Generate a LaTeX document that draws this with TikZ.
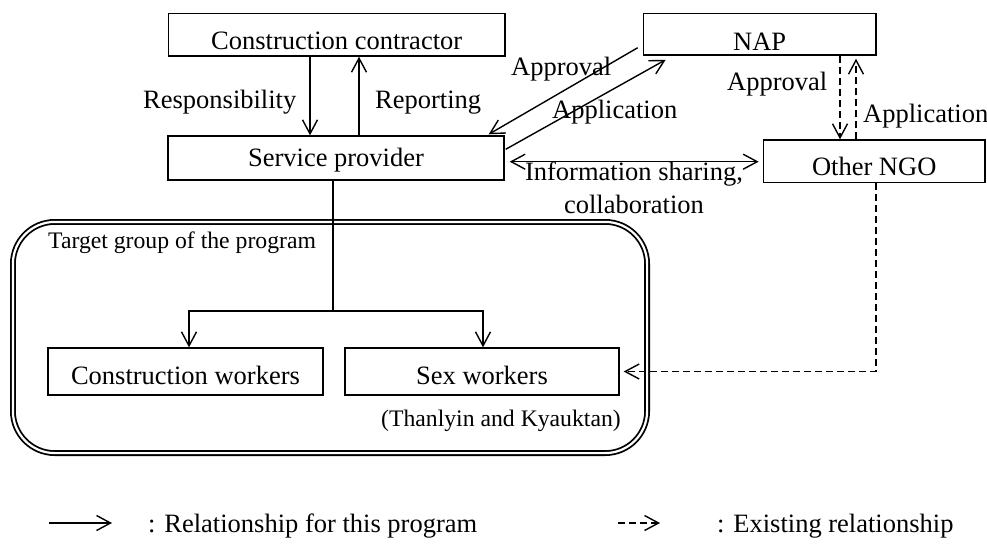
\documentclass[tikz,border=0pt]{standalone}
\usepackage{fontspec}
\setmainfont{Liberation Serif}
\usetikzlibrary{arrows.meta,calc}
\begin{document}
\begin{tikzpicture}[x=1pt,y=-1pt,
  every node/.style={font=\fontsize{26.5}{32.7}\selectfont, inner sep=0pt},
  box/.style={draw, line width=1.4pt, text depth=0pt},
  ln/.style={line width=1.4pt},
  arr/.style={ln, -{Straight Barb[length=14pt,width=15pt]}},
  dsh/.style={dash pattern=on 7pt off 4pt},
  small/.style={font=\fontsize{23.7}{28}\selectfont}]
\useasboundingbox (0,0) rectangle (987,543);

% target group frame (drawn first so connectors pass over it)
\node[draw, line width=1.8pt, double, double distance=2.2pt, rounded corners=42pt,
      minimum width=634.2pt, minimum height=231.2pt] (tg) at (330,337.5) {};

% boxes
\node[box, minimum width=336.7pt, minimum height=42.7pt, text height=29pt] (cc) at (336.7,34.7) {Construction contractor};
\node[box, minimum width=336pt, minimum height=44pt, text height=17pt] (sp) at (336,158) {Service provider};
\node[box, minimum width=232.7pt, minimum height=41.7pt, text height=32pt] (nap) at (759.7,34.2) {NAP};
\node[box, minimum width=221.7pt, minimum height=42.7pt, text height=27.4pt] (ngo) at (874.2,161.3) {Other NGO};
\node[box, minimum width=275pt, minimum height=47pt, text height=25pt] (cw) at (185.5,371.5) {Construction workers};
\node[box, minimum width=274pt, minimum height=47pt, text height=25pt] (sw) at (482,371.5) {Sex workers};

% helper coordinates
\coordinate (xr) at (310,0);
\coordinate (xp) at (359,0);
\coordinate (yi) at (0,161.7);
\coordinate (xa) at (840,0);
\coordinate (xb) at (856,0);
\coordinate (jn) at (333,311);
\coordinate (xl) at (189,0);
\coordinate (xs) at (483,0);
\coordinate (xn) at (876,0);

% contractor <-> service provider
\draw[arr] (cc.south -| xr) -- (sp.north -| xr);
\draw[arr] (sp.north -| xp) -- (cc.south -| xp);

% NAP <-> service provider
\draw[arr] ($(nap.south west)+(-5,-8)$) -- ($(sp.north east)+(-16,-1)$);
\draw[arr] ($(sp.north east)+(1,14)$) -- ($(nap.south west)+(23,4)$);

% service provider <-> other NGO
\draw[ln, {Straight Barb[length=14pt,width=15pt]}-{Straight Barb[length=14pt,width=15pt]},
      shorten <=5pt, shorten >=4pt] (sp.east |- yi) -- (ngo.west |- yi);

% NAP <-> other NGO (dashed)
\draw[arr,dsh] (nap.south -| xa) -- (ngo.north -| xa);
\draw[arr,dsh, shorten >=3pt] (ngo.north -| xb) -- (nap.south -| xb);

% service provider -> target groups
\draw[ln] (sp.south -| jn) -- (jn);
\draw[arr] (jn) -| (cw.north -| xl);
\draw[arr] (jn) -| (sw.north -| xs);

% other NGO -> sex workers (dashed)
\draw[arr,dsh, shorten >=4pt] (ngo.south -| xn) |- (sw.east);

% labels
\node[anchor=base west] (lresp) at (143,108) {Responsibility};
\node[anchor=base west] (lrep) at (375,108) {Reporting};
\node[anchor=base west] (lapp1) at (511,75.5) {Approval};
\node[anchor=base west] (lapl1) at (552,118) {Application};
\node[anchor=base west] (lapp2) at (727,90) {Approval};
\node[anchor=base west] (lapl2) at (863,122) {Application};
\node[anchor=north, align=center] (linfo) at (634,162) {Information sharing,\\collaboration};
\node[small, anchor=base west] (ltg) at (48,248) {Target group of the program};
\node[small, anchor=base west] (lth) at (381,426) {(Thanlyin and Kyauktan)};

% legend
\coordinate (l1a) at (49,523);
\coordinate (l1b) at (112,523);
\draw[arr] (l1a) -- (l1b);
\node[anchor=base west] (l1t) at (148,532) {: Relationship for this program};
\coordinate (l2a) at (618,523);
\coordinate (l2b) at (660,523);
\draw[arr,dsh] (l2a) -- (l2b);
\node[anchor=base west] (l2t) at (717,532) {: Existing relationship};
\end{tikzpicture}
\end{document}
